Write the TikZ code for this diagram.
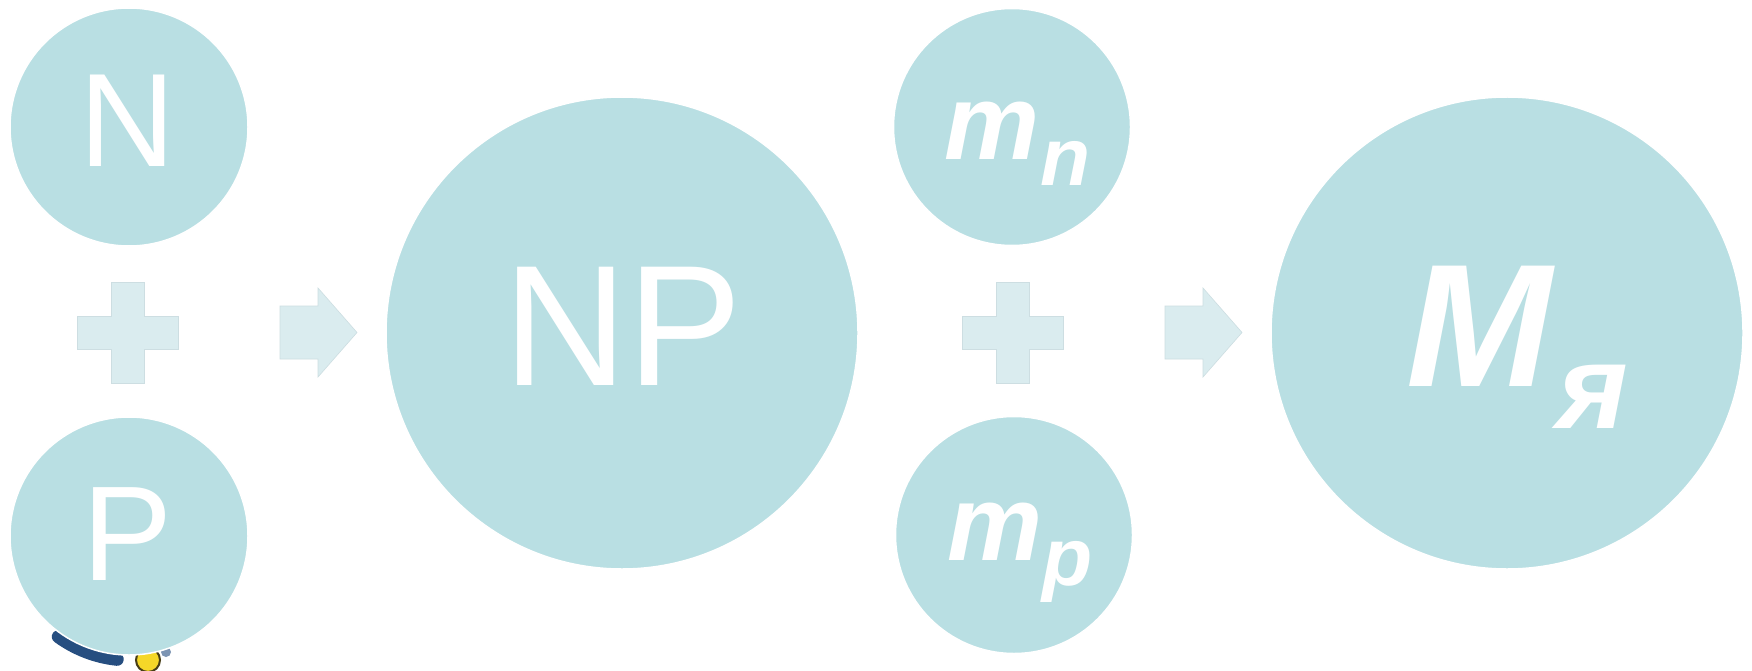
\documentclass[tikz,border=0pt]{standalone}
\usepackage{fontspec}
\setmainfont{Liberation Sans}
\newfontfamily\bifont{Liberation Sans}[UprightFont={* Bold Italic}]
\definecolor{circ}{RGB}{185,223,227}
\definecolor{sign}{RGB}{218,236,239}
\definecolor{signedge}{RGB}{205,222,226}
\definecolor{logoblue}{RGB}{38,78,128}
\definecolor{logoyel}{RGB}{245,215,40}
\definecolor{logoedge}{RGB}{72,62,22}
\tikzset{
  plussign/.pic={
    \draw[sgn] (-16.5,-50.5) -- (16.5,-50.5) -- (16.5,-16.5) -- (50.5,-16.5) -- (50.5,16.5) -- (16.5,16.5) -- (16.5,50.5) -- (-16.5,50.5) -- (-16.5,16.5) -- (-50.5,16.5) -- (-50.5,-16.5) -- (-16.5,-16.5) -- cycle;
  },
  arrowsign/.pic={
    \draw[sgn] (0,-26.5) -- (38,-26.5) -- (38,-44.5) -- (77,0) -- (38,44.5) -- (38,26.5) -- (0,26.5) -- cycle;
  }
}
\begin{document}
\begin{tikzpicture}[x=1pt,y=-1pt,
  ball/.style={circle, fill=circ, draw=white, line width=1.5pt, inner sep=0pt},
  lbl/.style={text=white, inner sep=0pt, anchor=base},
  sgn/.style={fill=sign, draw=signedge, line width=0.6pt}]
\useasboundingbox[fill=white] (0,0) rectangle (1752,671);

% logo fragment behind the P circle
\draw[logoblue, line width=13pt, line cap=round] (130,538) ++(234:122pt) arc[start angle=234, end angle=264, radius=122pt];
\fill[logoblue!60] (166,652) circle[radius=5pt];
\filldraw[fill=logoyel, draw=logoedge, line width=2pt] (148,660) circle[radius=12pt];

% circles
\node[ball, minimum size=238pt] (cN) at (129,127) {};
\node[ball, minimum size=238pt] (cP) at (129,536) {};
\node[ball, minimum size=472pt] (cNP) at (622,333) {};
\node[ball, minimum size=237pt] (cmn) at (1012,127) {};
\node[ball, minimum size=237pt] (cmp) at (1014,535) {};
\node[ball, minimum size=472pt] (cM) at (1507,333) {};

% signs
\pic at (127.5,332.5) {plussign};
\pic at (280,332.5) {arrowsign};
\pic at (1012.5,332.5) {plussign};
\pic at (1165,332.5) {arrowsign};

% labels
\node[lbl, font=\fontsize{133}{133}\selectfont] (tN) at (128,167) {N};
\node[lbl, font=\fontsize{135}{135}\selectfont] (tP) at (128,580) {P};
\node[lbl, font=\fontsize{172}{172}\selectfont] (tNP) at (623,385) {NP};
\node[lbl, anchor=base west, font=\bifont\fontsize{107}{107}\selectfont] (tmn) at (944,160) {m\kern1pt\raisebox{-26pt}{\fontsize{82}{82}\selectfont n}};
\node[lbl, anchor=base west, font=\bifont\fontsize{107}{107}\selectfont] (tmp) at (947,560) {m\raisebox{-25pt}{\fontsize{82}{82}\selectfont p}};
\node[lbl, anchor=base west, font=\bifont\fontsize{175}{175}\selectfont] (tM) at (1406,386) {M\kern6pt\raisebox{-42pt}{\fontsize{120}{120}\selectfont я}};
\end{tikzpicture}
\end{document}
